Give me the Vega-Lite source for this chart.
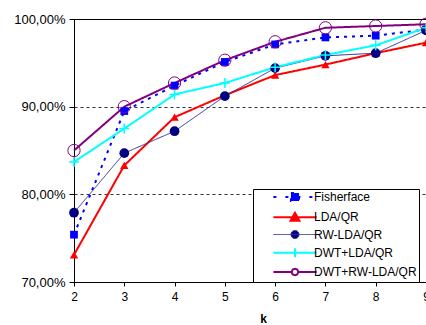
{
  "$schema": "https://vega.github.io/schema/vega-lite/v6.json",
  "width": 352,
  "height": 263,
  "autosize": {"type": "none"},
  "padding": {"left": 74, "top": 19, "right": 0, "bottom": 43},
  "background": "white",
  "config": {
    "view": {"stroke": "black", "strokeWidth": 1},
    "font": "Liberation Sans",
    "axis": {"domainColor": "black", "tickColor": "black", "labelColor": "black", "labelFont": "Liberation Sans", "titleFont": "Liberation Sans", "titleColor": "black"}
  },
  "data": {
    "values": [
      {"k": 2, "method": "Fisherface", "acc": 75.4},
      {"k": 3, "method": "Fisherface", "acc": 89.5},
      {"k": 4, "method": "Fisherface", "acc": 92.4},
      {"k": 5, "method": "Fisherface", "acc": 95.1},
      {"k": 6, "method": "Fisherface", "acc": 97.1},
      {"k": 7, "method": "Fisherface", "acc": 97.9},
      {"k": 8, "method": "Fisherface", "acc": 98.1},
      {"k": 9, "method": "Fisherface", "acc": 98.8},
      {"k": 2, "method": "LDA/QR", "acc": 73.1},
      {"k": 3, "method": "LDA/QR", "acc": 83.3},
      {"k": 4, "method": "LDA/QR", "acc": 88.8},
      {"k": 5, "method": "LDA/QR", "acc": 91.3},
      {"k": 6, "method": "LDA/QR", "acc": 93.6},
      {"k": 7, "method": "LDA/QR", "acc": 94.8},
      {"k": 8, "method": "LDA/QR", "acc": 96.1},
      {"k": 9, "method": "LDA/QR", "acc": 97.3},
      {"k": 2, "method": "RW-LDA/QR", "acc": 77.9},
      {"k": 3, "method": "RW-LDA/QR", "acc": 84.7},
      {"k": 4, "method": "RW-LDA/QR", "acc": 87.2},
      {"k": 5, "method": "RW-LDA/QR", "acc": 91.2},
      {"k": 6, "method": "RW-LDA/QR", "acc": 94.4},
      {"k": 7, "method": "RW-LDA/QR", "acc": 95.8},
      {"k": 8, "method": "RW-LDA/QR", "acc": 96.1},
      {"k": 9, "method": "RW-LDA/QR", "acc": 98.7},
      {"k": 2, "method": "DWT+LDA/QR", "acc": 83.7},
      {"k": 3, "method": "DWT+LDA/QR", "acc": 87.5},
      {"k": 4, "method": "DWT+LDA/QR", "acc": 91.4},
      {"k": 5, "method": "DWT+LDA/QR", "acc": 92.7},
      {"k": 6, "method": "DWT+LDA/QR", "acc": 94.5},
      {"k": 7, "method": "DWT+LDA/QR", "acc": 95.9},
      {"k": 8, "method": "DWT+LDA/QR", "acc": 97.0},
      {"k": 9, "method": "DWT+LDA/QR", "acc": 99.0},
      {"k": 2, "method": "DWT+RW-LDA/QR", "acc": 85.0},
      {"k": 3, "method": "DWT+RW-LDA/QR", "acc": 90.0},
      {"k": 4, "method": "DWT+RW-LDA/QR", "acc": 92.7},
      {"k": 5, "method": "DWT+RW-LDA/QR", "acc": 95.3},
      {"k": 6, "method": "DWT+RW-LDA/QR", "acc": 97.4},
      {"k": 7, "method": "DWT+RW-LDA/QR", "acc": 99.0},
      {"k": 8, "method": "DWT+RW-LDA/QR", "acc": 99.2},
      {"k": 9, "method": "DWT+RW-LDA/QR", "acc": 99.4}
    ]
  },
  "encoding": {
    "x": {
      "field": "k", "type": "quantitative",
      "scale": {"domain": [2, 9], "nice": false, "zero": false},
      "axis": {"values": [2, 3, 4, 5, 6, 7, 8, 9], "format": "d", "grid": false, "tickSize": 4, "labelPadding": 5, "labelFontSize": 12, "title": "k", "titleFontWeight": "bold", "titleFontSize": 12, "titleX": 189, "titlePadding": 11, "labelFlush": false}
    },
    "y": {
      "field": "acc", "type": "quantitative",
      "scale": {"domain": [70, 100], "nice": false, "zero": false},
      "axis": {
        "values": [70, 80, 90, 100], "title": null, "tickSize": 5, "labelPadding": 4, "labelFontSize": 13,
        "labelExpr": "replace(format(datum.value, '.2f'), '.', ',') + '%'",
        "grid": true, "gridColor": "#333333", "gridDash": [3, 3], "gridWidth": 1,
        "gridOpacity": {"condition": {"test": "datum.value == 80 || datum.value == 90", "value": 1}, "value": 0},
        "labelFlush": false
      }
    }
  },
  "layer": [
    {
      "mark": {"type": "line"},
      "encoding": {
        "stroke": {
          "field": "method", "type": "nominal",
          "scale": {"domain": ["Fisherface", "LDA/QR", "RW-LDA/QR", "DWT+LDA/QR", "DWT+RW-LDA/QR"], "range": ["#0000FF", "#FF0000", "#333399", "#00FFFF", "#800080"]},
          "legend": {
            "title": null, "orient": "none", "legendX": 179, "legendY": 170,
            "padding": 2, "rowPadding": 2.25, "fillColor": "white", "strokeColor": "black",
            "symbolSize": 324, "symbolStrokeWidth": 2, "symbolOffset": 34, "labelOffset": 13,
            "labelFont": "Liberation Sans", "labelFontSize": 12, "labelColor": "black", "labelLimit": 300,
            "labelExpr": "datum.label + '        '",
            "encode": {
              "symbols": {
                "update": {
                  "shape": {"signal": "datum.value == 'Fisherface' ? 'M-2.4,0H2.4M-0.45,-0.45H0.45V0.45H-0.45Z' : datum.value == 'LDA/QR' ? 'M-2.4,0H2.4M0,-0.5L0.5,0.4H-0.5Z' : datum.value == 'RW-LDA/QR' ? 'M-2.4,0H2.4M0.45,0A0.45,0.45,0,1,1,-0.45,0A0.45,0.45,0,1,1,0.45,0Z' : datum.value == 'DWT+LDA/QR' ? 'M-2.4,0H2.4M0,-0.5V0.5' : 'M-2.4,0H-0.35M0.35,0H2.4M0.35,0A0.35,0.35,0,1,1,-0.35,0A0.35,0.35,0,1,1,0.35,0Z'"},
                  "fill": {"signal": "datum.value == 'Fisherface' ? '#0000FF' : datum.value == 'LDA/QR' ? '#FF0000' : datum.value == 'RW-LDA/QR' ? '#000080' : 'white'"},
                  "strokeDash": {"signal": "datum.value == 'Fisherface' ? [3, 9] : [1, 0]"},
                  "strokeWidth": {"signal": "datum.value == 'RW-LDA/QR' ? 1 : 2"},
                  "opacity": {"value": 1}
                }
              }
            }
          }
        },
        "strokeWidth": {"condition": {"test": "datum.method == 'RW-LDA/QR'", "value": 1}, "value": 2},
        "strokeDash": {"condition": {"test": "datum.method == 'Fisherface'", "value": [3, 5]}, "value": [1, 0]}
      }
    },
    {
      "transform": [{"filter": "datum.method == 'Fisherface'"}],
      "mark": {"type": "point", "shape": "square", "filled": true, "color": "#0000FF", "size": 60, "opacity": 1}
    },
    {
      "transform": [{"filter": "datum.method == 'LDA/QR'"}],
      "mark": {"type": "point", "shape": "triangle-up", "filled": true, "color": "#FF0000", "size": 70, "opacity": 1}
    },
    {
      "transform": [{"filter": "datum.method == 'RW-LDA/QR'"}],
      "mark": {"type": "point", "shape": "circle", "filled": true, "color": "#000080", "size": 95, "opacity": 1}
    },
    {
      "transform": [{"filter": "datum.method == 'DWT+LDA/QR'"}],
      "mark": {"type": "point", "shape": "M-1,0H1M0,-1V1", "filled": false, "color": "#00FFFF", "strokeWidth": 1.5, "size": 100, "opacity": 1}
    },
    {
      "transform": [{"filter": "datum.method == 'DWT+RW-LDA/QR'"}],
      "mark": {"type": "point", "shape": "circle", "filled": false, "color": "#800080", "strokeWidth": 1, "size": 150, "opacity": 1}
    }
  ]
}
